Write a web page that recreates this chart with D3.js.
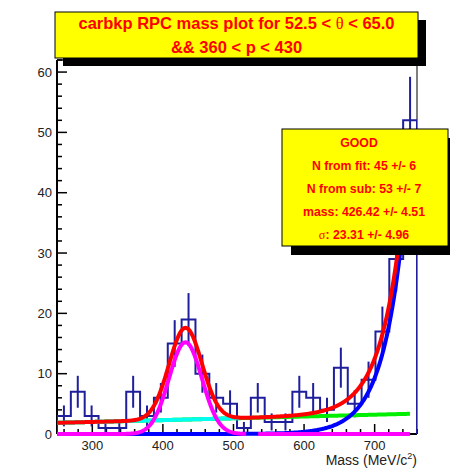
<!DOCTYPE html>
<html>
<head>
<meta charset="utf-8">
<script src="https://cdn.jsdelivr.net/npm/d3@7"></script>
<style>
body { margin: 0; background: #fff; }
svg { display: block; font-family: "Liberation Sans", Arial, Helvetica, sans-serif; }
</style>
</head>
<body>
<svg id="chart" width="450" height="469"></svg>
<script>
// histogram: 26 equal bins between 250 and 760 MeV
var binRange = [250, 760];
var counts = [3, 7, 3, 1, 1, 7, 3, 6, 15, 19, 10, 6, 5, 1, 6, 2, 2, 7, 6, 4, 11, 5, 9, 17, 29, 52];
var xTicks = [300, 400, 500, 600, 700];
var yTicks = [0, 10, 20, 30, 40, 50, 60];

// fit pieces
var gausPar = [15.2, 432, 23.31];   // amplitude, mean, sigma
var linPar = [1.85, 0.003];         // value at 250, slope per MeV
var expPar = [9.3, 0.0325];         // value at 700, slope per MeV
var fitRange = [250, 750];

var titleLines = ["carbkp RPC mass plot for 52.5 < \u03b8 < 65.0", "&& 360 < p < 430"];
var statLines = ["GOOD", "N from fit: 45 +/- 6", "N from sub: 53 +/- 7",
                 "mass: 426.42 +/- 4.51", "\u03c3: 23.31 +/- 4.96"];

var svg = d3.select("#chart");
var frame = { left: 57, right: 417, top: 60, bottom: 434 };

var x = d3.scaleLinear().domain(binRange).range([frame.left, frame.right]);
var y = d3.scaleLinear().domain([0, 62]).range([frame.bottom, frame.top]);

var binW = (binRange[1] - binRange[0]) / counts.length;

function gaus(m) { return gausPar[0] * Math.exp(-Math.pow(m - gausPar[1], 2) / (2 * gausPar[2] * gausPar[2])); }
function lin(m) { return linPar[0] + linPar[1] * (m - 250); }
function expo(m) { return expPar[0] * Math.exp(expPar[1] * (m - 700)); }
function total(m) { return gaus(m) + lin(m) + expo(m); }

// frame
svg.append("line").attr("x1", frame.right).attr("x2", frame.right)
    .attr("y1", frame.top).attr("y2", frame.bottom)
    .attr("stroke", "#555").attr("stroke-width", 1.5);
svg.append("line").attr("x1", frame.left).attr("x2", frame.right)
    .attr("y1", frame.top).attr("y2", frame.top)
    .attr("stroke", "#000").attr("stroke-width", 1.5);

// y axis, ticks pointing inside
var yAxis = svg.append("g");
yAxis.append("line").attr("x1", frame.left).attr("x2", frame.left)
    .attr("y1", frame.top).attr("y2", frame.bottom)
    .attr("stroke", "#000").attr("stroke-width", 2);
d3.range(0, 63, 2).forEach(function(v) {
    var major = v % 10 == 0;
    yAxis.append("line")
        .attr("x1", frame.left).attr("x2", frame.left + (major ? 10 : 5))
        .attr("y1", y(v)).attr("y2", y(v))
        .attr("stroke", "#000").attr("stroke-width", 1.5);
});
yAxis.selectAll("text").data(yTicks).enter().append("text")
    .attr("x", frame.left - 5)
    .attr("y", function(d) { return y(d); })
    .attr("dy", "0.36em")
    .attr("text-anchor", "end")
    .attr("font-size", 13)
    .attr("fill", "#222")
    .text(function(d) { return d; });

// x axis
var xAxis = svg.append("g");
xAxis.append("line").attr("x1", frame.left).attr("x2", frame.right)
    .attr("y1", frame.bottom).attr("y2", frame.bottom)
    .attr("stroke", "#000").attr("stroke-width", 2);
d3.range(260, 761, 20).forEach(function(v) {
    var major = v % 100 == 0;
    xAxis.append("line")
        .attr("x1", x(v)).attr("x2", x(v))
        .attr("y1", frame.bottom).attr("y2", frame.bottom - (major ? 10 : 5))
        .attr("stroke", "#000").attr("stroke-width", 1.5);
});
xAxis.selectAll("text").data(xTicks).enter().append("text")
    .attr("x", function(d) { return x(d); })
    .attr("y", 450)
    .attr("text-anchor", "middle")
    .attr("font-size", 13)
    .attr("fill", "#222")
    .text(function(d) { return d; });

var xTitle = svg.append("text")
    .attr("x", frame.right).attr("y", 465)
    .attr("text-anchor", "end")
    .attr("font-size", 14)
    .attr("fill", "#222");
xTitle.append("tspan").text("Mass (MeV/c");
xTitle.append("tspan").attr("font-size", 9).attr("dy", -6).text("2");
xTitle.append("tspan").attr("dy", 6).text(")");

// curves sit on top of the axis line, so clip a bit below it
svg.append("clipPath").attr("id", "plotclip")
    .append("rect")
    .attr("x", frame.left).attr("y", frame.top)
    .attr("width", frame.right - frame.left).attr("height", frame.bottom - frame.top + 3);

var plot = svg.append("g").attr("clip-path", "url(#plotclip)");

// histogram outline as steps
var pts = [[binRange[0], 0]];
counts.forEach(function(c, i) {
    pts.push([binRange[0] + i * binW, c]);
    pts.push([binRange[0] + (i + 1) * binW, c]);
});
pts.push([binRange[1], 0]);

plot.append("path")
    .attr("d", d3.line().x(function(d) { return x(d[0]); }).y(function(d) { return y(d[1]); })(pts))
    .attr("fill", "none")
    .attr("stroke", "#1f1f9c")
    .attr("stroke-width", 2);

// error bars
plot.selectAll("line.err").data(counts).enter().append("line")
    .attr("class", "err")
    .attr("x1", function(d, i) { return x(binRange[0] + (i + 0.5) * binW); })
    .attr("x2", function(d, i) { return x(binRange[0] + (i + 0.5) * binW); })
    .attr("y1", function(d) { return y(d - Math.sqrt(d)); })
    .attr("y2", function(d) { return y(d + Math.sqrt(d)); })
    .attr("stroke", "#1f1f9c")
    .attr("stroke-width", 2);

function drawCurve(f, lo, hi, color, w) {
    var ms = d3.range(lo, hi, 1).concat([hi]);
    plot.append("path")
        .attr("d", d3.line().x(function(m) { return x(m); }).y(function(m) { return y(f(m)); })(ms))
        .attr("fill", "none")
        .attr("stroke", color)
        .attr("stroke-width", w)
        .attr("stroke-linejoin", "round");
}

drawCurve(lin, fitRange[0], fitRange[1], "#00ee00", 4);
drawCurve(lin, fitRange[0], 508, "#00ffee", 4);
drawCurve(expo, fitRange[0], fitRange[1], "#0000ff", 4);
drawCurve(gaus, fitRange[0], 518, "#ff00ff", 4);
drawCurve(gaus, 535, fitRange[1], "#ff00ff", 4);
drawCurve(total, fitRange[0], fitRange[1], "#ff0000", 4);

// greek letters come from a serif face, like ROOT's symbol font
function writeLine(sel, str) {
    str.split(/([\u03b8\u03c3])/).forEach(function(part) {
        if (part == "") return;
        var t = sel.append("tspan").text(part);
        if (part == "\u03b8" || part == "\u03c3") {
            t.attr("font-family", "'Liberation Serif', 'DejaVu Serif', serif").attr("font-weight", "normal");
        }
    });
}

function paveBox(bx, by, bw, bh, off) {
    svg.append("rect").attr("x", bx + off).attr("y", by + off)
        .attr("width", bw).attr("height", bh).attr("fill", "#000");
    svg.append("rect").attr("x", bx).attr("y", by)
        .attr("width", bw).attr("height", bh)
        .attr("fill", "#ffff00").attr("stroke", "#000").attr("stroke-width", 1);
}

// title pave
paveBox(55, 12, 363, 46, 8);
titleLines.forEach(function(s, i) {
    var t = svg.append("text")
        .attr("x", 236.5).attr("y", 29 + i * 24)
        .attr("text-anchor", "middle")
        .attr("font-size", 16.5)
        .attr("font-weight", "bold")
        .attr("fill", "#ff0000");
    writeLine(t, s);
});

// stats pave
paveBox(282, 129, 166, 117, 9);
statLines.forEach(function(s, i) {
    var t = svg.append("text")
        .attr("x", i == 0 ? 359 : 364).attr("y", 147 + i * 23)
        .attr("text-anchor", "middle")
        .attr("font-size", 12.3)
        .attr("font-weight", "bold")
        .attr("fill", "#ff0000");
    writeLine(t, s);
});
</script>
</body>
</html>
